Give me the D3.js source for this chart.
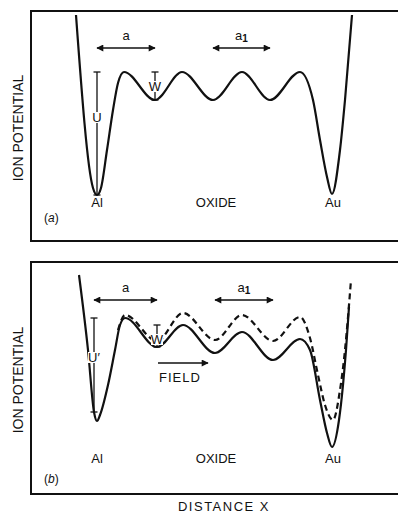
<!DOCTYPE html>
<html>
<head>
    <style>
        body { margin: 0; background: #fff; }
        svg text {
            font-family: "Liberation Sans", Arial, sans-serif;
            fill: #111;
        }
        .frame { fill: none; stroke: #111; stroke-width: 2; }
        .curve { fill: none; stroke: #111; stroke-width: 2.2; }
        .dashed { stroke-dasharray: 6 4; }
        .bar { stroke: #111; stroke-width: 1.3; }
        .arrow { stroke: #111; stroke-width: 1.7; }
    </style>
    <script src="https://d3js.org/d3.v7.min.js"></script>
</head>
<body>
    <svg width="398" height="514"></svg>
    <script>
    // curves: [distance, potential] in arbitrary units
    var curveA = [[45,227],[62,54],[66,47],[70,54],[76,92],[82,132],[87,159],[93,170],
                  [124,142],[151,170],[182,142],[211,170],[239,142],[269,170],
                  [282,142],[289,102],[296,65],[301,48],[309,92],[314,142],[321,227]];
    var curveB = [[48,219],[57,144],[63,82],[66,73],[69,79],[77,109],[84,144],[89,169],[94,176],
                  [126,147],[152,169],[184,141],[211,162],[242,134],[269,155],
                  [279,144],[289,94],[296,61],[301,47],[308,74],[312,109],[315,144],[318,187]];
    var curveBField = [[87,164],[94,179],[126,153],[152,181],[184,154],[211,179],[242,153],[269,177],
                       [279,156],[287,119],[294,89],[302,74],[309,104],[314,144],[317,177],[320,214]];

    var metalLabels = ["Al", "OXIDE", "Au"];
    var metalX = [66, 185, 302];

    var svg = d3.select("svg");
    var x = d3.scaleLinear().domain([0, 367]).range([31, 398]);
    var yA = d3.scaleLinear().domain([0, 231]).range([242, 11]);
    var yB = d3.scaleLinear().domain([0, 231]).range([494, 263]);

    var defs = svg.append("defs");
    defs.append("marker")
        .attr("id", "head")
        .attr("viewBox", "0 0 10 10")
        .attr("refX", 9).attr("refY", 5)
        .attr("markerWidth", 9).attr("markerHeight", 7)
        .attr("markerUnits", "userSpaceOnUse")
        .attr("orient", "auto-start-reverse")
        .append("path")
        .attr("d", "M0,0 L10,5 L0,10 Z")
        .attr("fill", "#111");

    function drawPanel(y, top, bottom, curves, opts) {
        var g = svg.append("g");

        g.append("rect")
         .attr("class", "frame")
         .attr("x", 31).attr("y", top)
         .attr("width", 390).attr("height", bottom - top);

        var line = d3.line()
                     .x(function(d) { return x(d[0]); })
                     .y(function(d) { return y(d[1]); })
                     .curve(d3.curveMonotoneX);

        curves.forEach(function(c) {
            g.append("path")
             .datum(c.pts)
             .attr("class", "curve" + (c.dashed ? " dashed" : ""))
             .attr("d", line);
        });

        var main = curves[0].pts;
        var alMin = main[2], firstPeak = main[opts.peakIdx],
            valley1 = main[opts.peakIdx + 1],
            valley2 = main[opts.peakIdx + 3], valley3 = main[opts.peakIdx + 5];

        // vertical bars U and W
        function bar(xv, y0, y1, label, ly) {
            g.append("line").attr("class", "bar")
             .attr("x1", x(xv)).attr("x2", x(xv))
             .attr("y1", y(y0)).attr("y2", y(y1));
            [y0, y1].forEach(function(v) {
                g.append("line").attr("class", "bar")
                 .attr("x1", x(xv) - 3.5).attr("x2", x(xv) + 3.5)
                 .attr("y1", y(v)).attr("y2", y(v));
            });
            g.append("rect")
             .attr("x", x(xv) - 6).attr("y", y(ly) - 10)
             .attr("width", 12).attr("height", 11)
             .attr("fill", "#fff");
            g.append("text")
             .attr("x", x(xv)).attr("y", y(ly))
             .attr("text-anchor", "middle")
             .style("font-size", "13px")
             .text(label);
        }
        bar(alMin[0], alMin[1], firstPeak[1], opts.u, opts.uY);
        bar(valley1[0], valley1[1], opts.wTop, "W", opts.wY);

        // spacing arrows a and a1
        function span(x0, x1, label, sub) {
            g.append("line").attr("class", "arrow")
             .attr("x1", x(x0)).attr("x2", x(x1))
             .attr("y1", y(194)).attr("y2", y(194))
             .attr("marker-start", "url(#head)")
             .attr("marker-end", "url(#head)");
            var t = g.append("text")
             .attr("x", x((x0 + x1) / 2)).attr("y", y(202))
             .attr("text-anchor", "middle")
             .style("font-size", "13px")
             .text(label);
            if (sub) {
                t.append("tspan").attr("dy", 2).style("font-size", "10px").style("font-weight", "bold").text(sub);
            }
        }
        span(alMin[0], valley1[0], "a");
        span(valley2[0], valley3[0], "a", "1");

        g.selectAll(".metal")
         .data(metalLabels)
         .enter().append("text")
         .attr("x", function(d, i) { return x(metalX[i]); })
         .attr("y", y(opts.labelY))
         .attr("text-anchor", "middle")
         .style("font-size", "13px")
         .text(function(d) { return d; });

        var tag = g.append("text")
         .attr("x", 44).attr("y", y(opts.tagY))
         .style("font-size", "12px")
         .text("(");
        tag.append("tspan").style("font-style", "italic").text(opts.tag);
        tag.append("tspan").text(")");

        g.append("text")
         .attr("transform", "translate(23," + ((top + bottom) / 2 + 2) + ") rotate(-90)")
         .attr("text-anchor", "middle")
         .style("font-size", "14px")
         .text("ION POTENTIAL");

        return g;
    }

    drawPanel(yA, 11, 241, [{pts: curveA}],
              {peakIdx: 7, u: "U", uY: 120, wTop: 170, wY: 151, labelY: 35, tagY: 20, tag: "a"});

    var gB = drawPanel(yB, 262, 494, [{pts: curveB}, {pts: curveBField, dashed: true}],
              {peakIdx: 8, u: "U\u2032", uY: 132, wTop: 169, wY: 150, labelY: 31, tagY: 11, tag: "b"});

    gB.append("line").attr("class", "arrow")
      .attr("x1", x(127)).attr("x2", x(177))
      .attr("y1", yB(131)).attr("y2", yB(131))
      .attr("marker-end", "url(#head)");
    gB.append("text")
      .attr("x", x(128)).attr("y", yB(112))
      .style("font-size", "13px")
      .style("letter-spacing", "1px")
      .text("FIELD");

    svg.append("text")
       .attr("x", 224).attr("y", 511)
       .attr("text-anchor", "middle")
       .style("font-size", "13px")
       .style("letter-spacing", "1.5px")
       .text("DISTANCE  X");
    </script>
</body>
</html>
